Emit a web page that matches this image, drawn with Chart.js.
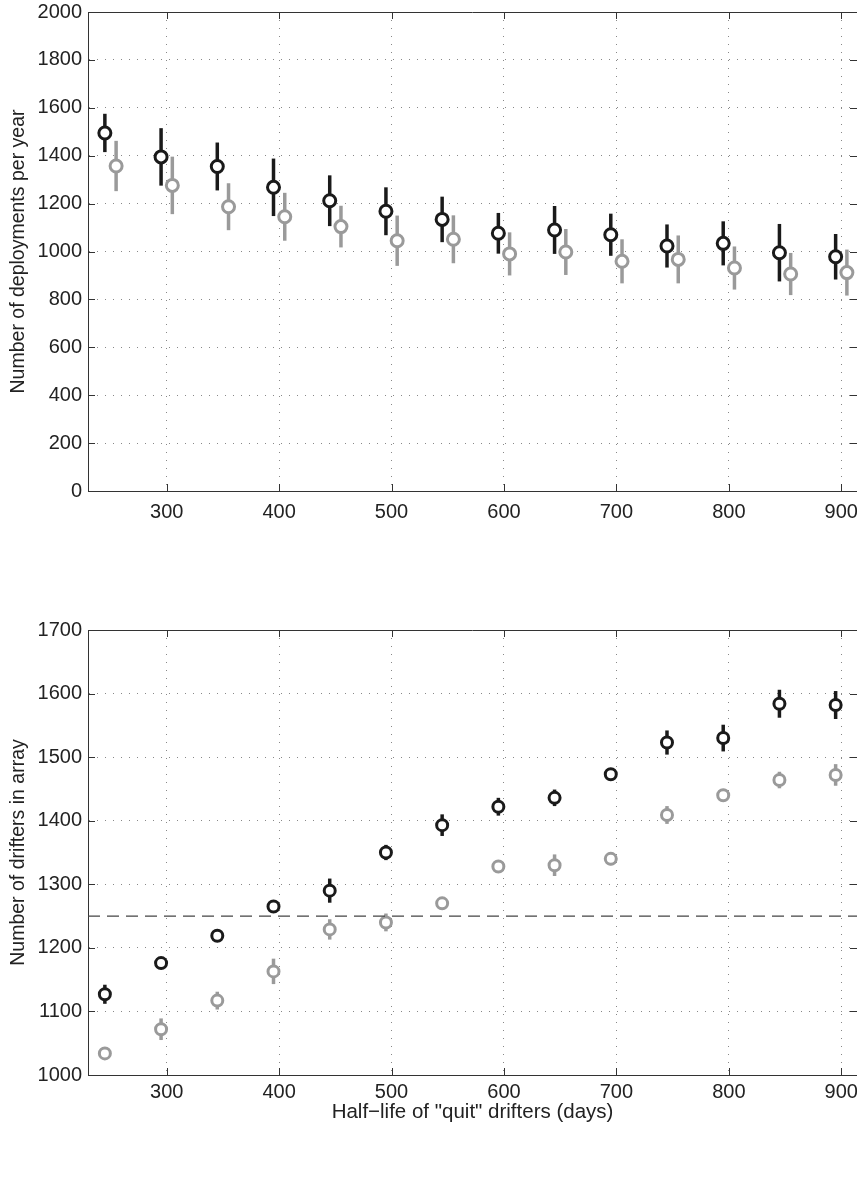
<!DOCTYPE html>
<html>
<head>
<meta charset="utf-8">
<script src="https://cdn.jsdelivr.net/npm/chart.js@4.4.0/dist/chart.umd.min.js"></script>
<style>
  body { margin: 0; background: #fff; width: 857px; height: 1203px; overflow: hidden; position: relative; }
  .panel { position: absolute; left: 0; }
</style>
</head>
<body>
<div class="panel" style="top:0"><canvas id="deploy" width="857" height="560"></canvas></div>
<div class="panel" style="top:560px"><canvas id="drifters" width="857" height="643"></canvas></div>
<script>
// half-life of "quit" drifters (days)
const halfLife = [245, 295, 345, 395, 445, 495, 545, 595, 645, 695, 745, 795, 845, 895];
// grey series is drawn a little to the right in the upper panel
const halfLifeShift = [255, 305, 355, 405, 455, 505, 555, 605, 655, 705, 755, 805, 855, 905];
const xTicks = [300, 400, 500, 600, 700, 800, 900];

// upper panel: deployments per year
const deployBlack = [1495, 1395, 1355, 1268, 1212, 1168, 1134, 1076, 1090, 1070, 1023, 1034, 995, 978];
const deployBlackErr = [80, 120, 100, 120, 106, 100, 95, 85, 100, 88, 90, 92, 120, 95];
const deployGrey = [1357, 1276, 1187, 1145, 1104, 1045, 1051, 990, 998, 959, 967, 931, 906, 912];
const deployGreyErr = [105, 120, 98, 100, 87, 105, 100, 90, 96, 92, 100, 90, 88, 96];

// lower panel: drifters in array
const arrayBlack = [1127, 1176, 1219, 1265, 1290, 1350, 1393, 1422, 1436, 1473, 1523, 1530, 1584, 1582];
const arrayBlackErr = [15, 8, 8, 8, 19, 12, 17, 14, 13, 9, 19, 21, 22, 22];
const arrayGrey = [1034, 1072, 1117, 1163, 1229, 1240, 1270, 1328, 1330, 1340, 1409, 1440, 1464, 1472];
const arrayGreyErr = [8, 17, 14, 20, 16, 14, 10, 10, 17, 10, 14, 10, 13, 17];
const arrayTarget = 1250;

const xMin = 230, xMax = 914;
const BLACK = '#1a1a1a', GREY = '#9a9a9a';
const FAMILY = '"Liberation Sans", Arial, sans-serif';
const TICK_FONT = { family: FAMILY, size: 20 };

const pts = (xs, ys) => xs.map((x, i) => ({ x: x, y: ys[i] }));

// vertical error bars, drawn under the open circles
const errorBars = {
  id: 'errorBars',
  beforeDatasetsDraw(chart) {
    const { ctx, scales: { x, y } } = chart;
    chart.data.datasets.forEach(ds => {
      if (!ds.errors) return;
      ctx.save();
      ctx.strokeStyle = ds.borderColor;
      ctx.lineWidth = 3.5;
      ds.data.forEach((p, j) => {
        const px = x.getPixelForValue(p.x);
        ctx.beginPath();
        ctx.moveTo(px, y.getPixelForValue(p.y - ds.errors[j]));
        ctx.lineTo(px, y.getPixelForValue(p.y + ds.errors[j]));
        ctx.stroke();
      });
      ctx.restore();
    });
  }
};

// matlab style box: top edge plus inward ticks
const boxTicks = {
  id: 'boxTicks',
  afterDraw(chart) {
    const { ctx, chartArea: a, scales: { x, y } } = chart;
    ctx.save();
    ctx.strokeStyle = '#333';
    ctx.lineWidth = 1;
    ctx.beginPath();
    ctx.moveTo(a.left, a.top + 0.5);
    ctx.lineTo(a.right, a.top + 0.5);
    x.ticks.forEach(t => {
      const px = Math.round(x.getPixelForValue(t.value)) + 0.5;
      ctx.moveTo(px, a.bottom); ctx.lineTo(px, a.bottom - 7);
      ctx.moveTo(px, a.top); ctx.lineTo(px, a.top + 7);
    });
    y.ticks.forEach(t => {
      const py = Math.round(y.getPixelForValue(t.value)) + 0.5;
      ctx.moveTo(a.left, py); ctx.lineTo(a.left + 7, py);
      ctx.moveTo(a.right, py); ctx.lineTo(a.right - 7, py);
    });
    ctx.stroke();
    ctx.restore();
  }
};

function circles(data, errors, color, r) {
  return {
    type: 'scatter',
    data: data,
    errors: errors,
    borderColor: color,
    backgroundColor: '#fff',
    pointRadius: r,
    pointBorderWidth: 3,
    pointHoverRadius: r
  };
}

function makeChart(id, datasets, y, pad, xAxis) {
  return new Chart(document.getElementById(id), {
    data: { datasets: datasets },
    plugins: [errorBars, boxTicks],
    options: {
      responsive: false,
      animation: false,
      layout: { padding: pad, autoPadding: false },
      plugins: { legend: { display: false }, tooltip: { enabled: false } },
      scales: {
        x: {
          type: 'linear', min: xMin, max: xMax,
          afterBuildTicks: s => { s.ticks = xTicks.map(v => ({ value: v })); },
          afterFit: s => { s.height = xAxis.height; s.paddingLeft = 0; s.paddingRight = 0; },
          grid: { color: '#888', drawTicks: false },
          border: { color: '#333', width: 1, dash: [1, 7] },
          ticks: { color: '#222', font: TICK_FONT, padding: xAxis.tickPad, maxRotation: 0, callback: v => String(v) },
          title: {
            display: !!xAxis.title, text: xAxis.title, color: '#222',
            font: { family: FAMILY, size: 20.5 }, padding: { top: 0, bottom: 0 }
          }
        },
        y: {
          min: y.min, max: y.max,
          ticks: { stepSize: y.step, color: '#222', font: TICK_FONT, padding: 6, callback: v => String(v) },
          afterFit: s => { s.width = 88; s.paddingTop = 0; s.paddingBottom = 0; },
          grid: { color: '#888', drawTicks: false },
          border: { color: '#333', width: 1, dash: [1, 7] },
          title: {
            display: true, text: y.title, color: '#222',
            font: { family: FAMILY, size: 19.5 }, padding: { top: 7, bottom: 0 }
          }
        }
      }
    }
  });
}

makeChart('deploy', [
  circles(pts(halfLife, deployBlack), deployBlackErr, BLACK, 6),
  circles(pts(halfLifeShift, deployGrey), deployGreyErr, GREY, 6)
], { min: 0, max: 2000, step: 200, title: 'Number of deployments per year' },
  { top: 12, right: 0, bottom: 0, left: 0 },
  { height: 69, tickPad: 9, title: '' });

makeChart('drifters', [
  {
    type: 'line',
    data: [{ x: xMin, y: arrayTarget }, { x: xMax, y: arrayTarget }],
    borderColor: '#444', borderWidth: 1.2, borderDash: [12, 7], pointRadius: 0
  },
  circles(pts(halfLife, arrayBlack), arrayBlackErr, BLACK, 5.5),
  circles(pts(halfLife, arrayGrey), arrayGreyErr, GREY, 5.5)
], { min: 1000, max: 1700, step: 100, title: 'Number of drifters in array' },
  { top: 70, right: 0, bottom: 78, left: 0 },
  { height: 50, tickPad: 5, title: 'Half\u2212life of "quit" drifters (days)' });
</script>
</body>
</html>
